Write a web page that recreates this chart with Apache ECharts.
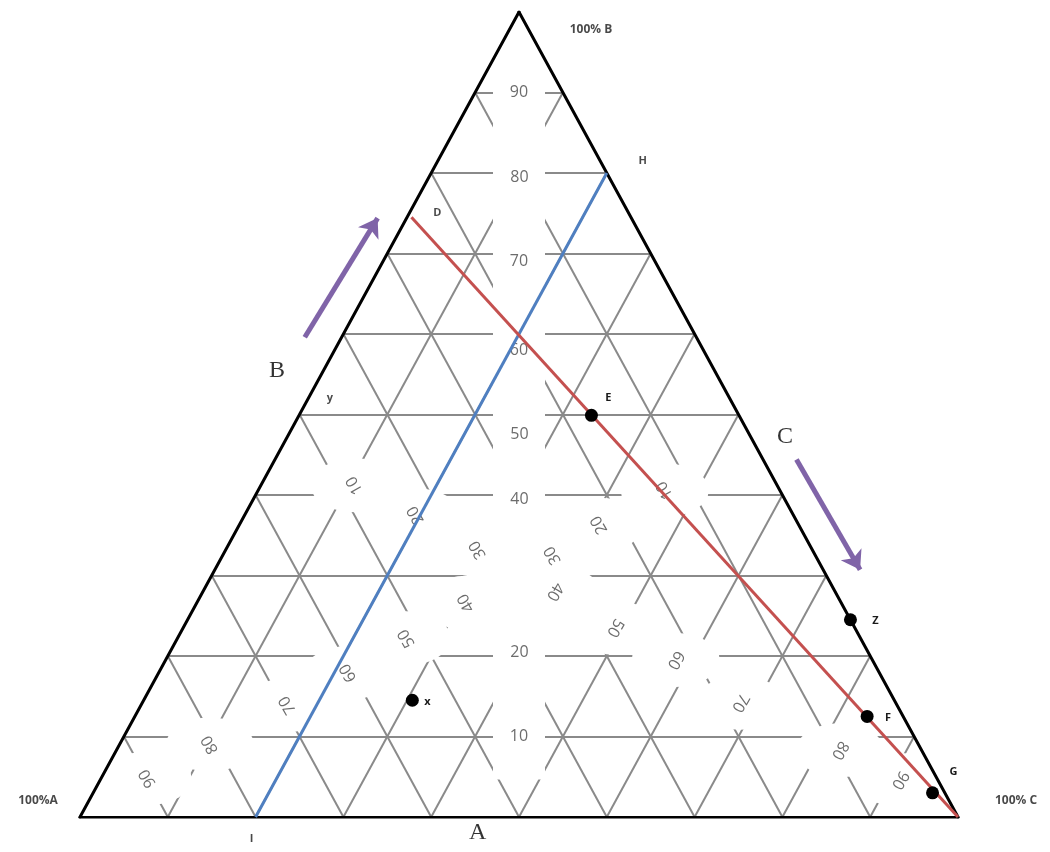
<!DOCTYPE html>
<html>
<head>
<meta charset="utf-8">
<script src="https://cdn.jsdelivr.net/npm/echarts@6/dist/echarts.min.js"></script>
<style>
  html, body { margin: 0; background: #fff; }
  #main { width: 1050px; height: 852px; }
</style>
</head>
<body>
<div id="main"></div>
<script>
// every position is a ternary triple [A, B, C] in percent
var ticks = [10, 20, 30, 40, 50, 60, 70, 80, 90];

// tick labels, where each one sits as [B, C] (A is the rest)
var bTickText = ['90', '80', '70', '60', '50', '40', '20', '10'];
var bTickAt = [[90, 5], [79.5, 10.3], [69, 15.5], [58, 21], [47.5, 26.3], [39.5, 30.3], [20.5, 39.8], [10, 45]];
var aTickText = ['10', '20', '30', '40', '50', '60', '70', '80', '90'];
var aTickAt = [[40.6, 46.3], [36.3, 41], [32.5, 37.6], [26.6, 30.7], [22.2, 26.1], [17.9, 21.6], [13.9, 16.7], [9, 10.3], [4.8, 5.3]];
var cTickText = ['10', '20', '30', '40', '50', '60', '70', '80', '90'];
var cTickAt = [[41.2, 10.7], [37.5, 19.5], [33.2, 28.7], [28, 40.1], [23.5, 49.2], [19.5, 58.1], [14.2, 68.1], [8.3, 82.4], [4.6, 91.1]];
// the blank patch in the middle (no B=30 label there)
var blankAt = [[35, 30, 35]];

// marked compositions
var pointNames = ['E', 'F', 'G', 'Z', 'x'];
var pointAt = [[16.8, 49.9, 33.3], [4.1, 12.5, 83.4], [1.4, 3.0, 95.6], [0, 24.5, 75.5], [54.9, 14.5, 30.6]];
// named spots without a dot
var tagNames = ['D', 'H', 'I', 'y'];
var tagAt = [[25, 74.5, 0.5], [0, 80, 20], [80, 0, 20], [49, 51, 0]];

// red line D -> 100% C, blue line C = 20
var redLine = [[25, 74.5, 0.5], [0, 0, 100]];
var blueLine = [[80, 0, 20], [0, 80, 20]];

// corners and side names
var cornerNames = ['100%A', '100% B', '100% C'];
var cornerAt = [[100, 0, 0], [0, 100, 0], [0, 0, 100]];
var sideNames = ['A', 'B', 'C'];
var sideAt = [[55.7, -2.0, 46.3], [49.8, 55.5, -5.3], [-3.9, 47.2, 56.7]];

// purple direction arrows, tail -> head
var arrows = [
  [[44.6, 59.6, -4.2], [28.9, 74.4, -3.3]],
  [[-3.8, 44.4, 59.4], [-4.2, 30.7, 73.5]],
  [[58.9, -2.2, 43.3], [77.6, -2.4, 24.8]]
];

// ternary -> plane (x along A..C, y = B)
function pt(t) { return [t[2] + t[1] / 2, t[1]]; }
function bc(p) { return [100 - p[0] - p[1], p[0], p[1]]; }

var chart = echarts.init(document.getElementById('main'));

var gridLines = [];
ticks.forEach(function (k) {
  gridLines.push({ coords: [pt([100 - k, k, 0]), pt([0, k, 100 - k])] });
  gridLines.push({ coords: [pt([k, 100 - k, 0]), pt([k, 0, 100 - k])] });
  gridLines.push({ coords: [pt([100 - k, 0, k]), pt([0, 100 - k, k])] });
});

var edges = [
  { coords: [pt(cornerAt[0]), pt(cornerAt[2])] },
  { coords: [pt(cornerAt[2]), pt(cornerAt[1])] },
  { coords: [pt(cornerAt[1]), pt(cornerAt[0])] }
];

var tickFont = { color: '#474747', fontSize: 16, fontFamily: 'Open Sans' };
var tickLabels = [];
var knockouts = [];
bTickAt.forEach(function (p, i) {
  var k = +bTickText[i];
  tickLabels.push({ value: pt(bc(p)), name: bTickText[i], label: { rotate: 0 } });
  // clear the middle column round the B line itself
  knockouts.push({ value: pt([(100 - k) / 2, k, (100 - k) / 2]), symbol: 'rect', symbolSize: [52, 86] });
});
aTickAt.forEach(function (p, i) {
  tickLabels.push({ value: pt(bc(p)), name: aTickText[i], label: { rotate: 120 } });
  knockouts.push({ value: pt(bc(p)), symbol: 'circle', symbolSize: [88, 54] });
});
cTickAt.forEach(function (p, i) {
  tickLabels.push({ value: pt(bc(p)), name: cTickText[i], label: { rotate: i < 3 ? 120 : -120 } });
  knockouts.push({ value: pt(bc(p)), symbol: 'circle', symbolSize: [88, 54] });
});
blankAt.forEach(function (t) {
  knockouts.push({ value: pt(t), symbol: 'circle', symbolSize: [104, 120] });
});

var tagFont = { color: '#1a1a1a', fontSize: 11, fontWeight: 'bold', fontFamily: 'Open Sans' };
var hidden = { color: 'rgba(0,0,0,0)' };

chart.setOption({
  animation: false,
  grid: { left: 80, right: 92, top: 12, bottom: 35 },
  xAxis: { type: 'value', min: 0, max: 100, show: false },
  yAxis: { type: 'value', min: 0, max: 100, show: false },
  series: [
    {
      type: 'lines', coordinateSystem: 'cartesian2d', silent: true, z: 1,
      data: gridLines,
      lineStyle: { color: '#8a8a8a', width: 2, opacity: 1 }
    },
    {
      type: 'scatter', silent: true, z: 2, clip: false,
      data: knockouts,
      itemStyle: { color: '#fff', opacity: 1 }
    },
    {
      type: 'scatter', silent: true, z: 3, symbolSize: 1, clip: false,
      data: tickLabels,
      itemStyle: hidden,
      label: Object.assign({ show: true, position: 'inside', formatter: '{b}' }, tickFont)
    },
    {
      type: 'lines', coordinateSystem: 'cartesian2d', silent: true, z: 4,
      data: edges,
      lineStyle: { color: '#000', width: 3, opacity: 1, cap: 'round', join: 'round' }
    },
    {
      type: 'lines', coordinateSystem: 'cartesian2d', silent: true, z: 5,
      data: [{ coords: blueLine.map(pt) }],
      lineStyle: { color: '#4f7fc0', width: 3, opacity: 1 }
    },
    {
      type: 'lines', coordinateSystem: 'cartesian2d', silent: true, z: 5,
      data: [{ coords: redLine.map(pt) }],
      lineStyle: { color: '#c4504f', width: 3, opacity: 1 }
    },
    {
      type: 'lines', coordinateSystem: 'cartesian2d', silent: true, z: 5,
      data: arrows.map(function (a) { return { coords: a.map(pt) }; }),
      symbol: ['none', 'arrow'], symbolSize: 18,
      lineStyle: { color: '#8064a8', width: 5, opacity: 1 }
    },
    {
      type: 'scatter', silent: true, z: 6, symbolSize: 13, clip: false,
      data: pointAt.map(function (t, i) {
        var off = [[17, -17], [21, 1], [21, -21], [25, 1], [15, 2]][i];
        return { value: pt(t), name: pointNames[i], label: { offset: off } };
      }),
      itemStyle: { color: '#000', opacity: 1 },
      label: Object.assign({ show: true, position: 'inside', formatter: '{b}' }, tagFont)
    },
    {
      type: 'scatter', silent: true, z: 6, symbolSize: 1, clip: false,
      data: tagAt.map(function (t, i) {
        var off = [[26, -4], [36, -12], [-4, 22], [26, -9]][i];
        return { value: pt(t), name: tagNames[i], label: { offset: off } };
      }),
      itemStyle: hidden,
      label: Object.assign({ show: true, position: 'inside', formatter: '{b}' }, tagFont)
    },
    {
      type: 'scatter', silent: true, z: 6, symbolSize: 1, clip: false,
      data: cornerAt.map(function (t, i) {
        var off = [[-42, -16], [72, 18], [58, -16]][i];
        return { value: pt(t), name: cornerNames[i], label: { offset: off } };
      }),
      itemStyle: hidden,
      label: Object.assign({ show: true, position: 'inside', formatter: '{b}' }, tagFont, { fontSize: 12 })
    },
    {
      type: 'scatter', silent: true, z: 6, symbolSize: 1, clip: false,
      data: sideAt.map(function (t, i) { return { value: pt(t), name: sideNames[i] }; }),
      itemStyle: hidden,
      label: { show: true, position: 'inside', formatter: '{b}', color: '#000', fontSize: 24, fontFamily: 'Liberation Serif' }
    }
  ]
});
</script>
</body>
</html>
